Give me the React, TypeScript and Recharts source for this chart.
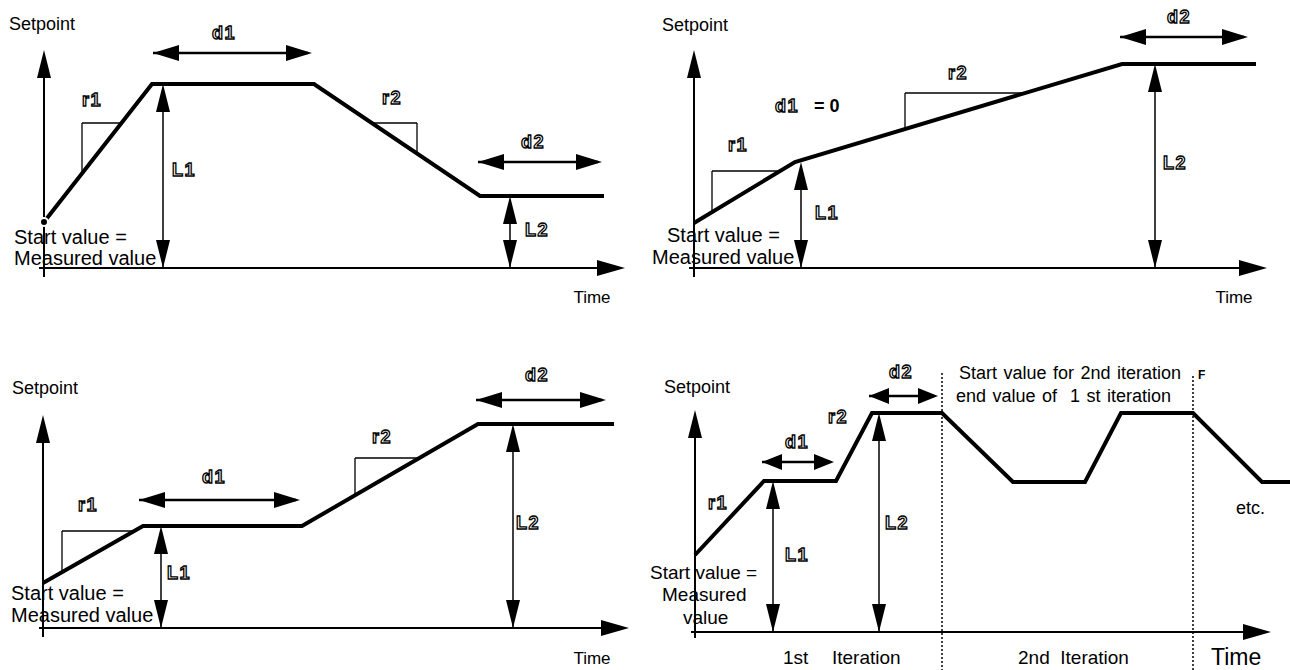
import React from 'react';
import { LineChart, Line, XAxis, YAxis, ReferenceLine, ReferenceDot } from 'recharts';

type Pt = [number, number];

// ---------------- Panel 1 : ramp up, dwell, ramp down, dwell ----------------
const p1Time = [0, 5.4, 13.5, 21.8, 28];
const p1Setpoint = [23, 92, 92, 36, 36];
const p1Dims: Pt[][] = [
  [[5.95, 0], [5.95, 92]],
  [[23.3, 0], [23.3, 36]],
  [[5.45, 107.5], [13.4, 107.5]],
  [[21.7, 53], [27.9, 53]],
];
const p1Slopes: Pt[][] = [
  [[1.9, 47.3], [1.9, 72.5], [3.87, 72.5]],
  [[16.4, 72.5], [18.65, 72.5], [18.65, 57.3]],
];
const p1Tags = [
  { at: [9.0, 117.5] as Pt, text: 'd1', anchor: 'middle' },
  { at: [24.45, 63] as Pt, text: 'd2', anchor: 'middle' },
  { at: [2.4, 84] as Pt, text: 'r1', anchor: 'middle' },
  { at: [17.4, 85] as Pt, text: 'r2', anchor: 'middle' },
  { at: [6.4, 49] as Pt, text: 'L1', anchor: 'start' },
  { at: [24.05, 19] as Pt, text: 'L2', anchor: 'start' },
];
const p1Texts = [
  { at: [-1.75, 122] as Pt, text: 'Setpoint', size: 18, anchor: 'start' },
  { at: [-1.5, 15.5] as Pt, text: 'Start value =', size: 20, anchor: 'start' },
  { at: [-1.5, 5] as Pt, text: 'Measured value', size: 20, anchor: 'start' },
  { at: [27.4, -14.5] as Pt, text: 'Time', size: 17, anchor: 'middle' },
];

// ---------------- Panel 2 : d1 = 0 ----------------
const p2Time = [0, 5.05, 21.4, 28.1];
const p2Setpoint = [22.5, 53, 102, 102];
const p2Dims: Pt[][] = [
  [[5.35, 0], [5.35, 53]],
  [[23.05, 0], [23.05, 102]],
  [[21.3, 115.5], [27.7, 115.5]],
];
const p2Slopes: Pt[][] = [
  [[0.9, 27.9], [0.9, 48.5], [4.3, 48.5]],
  [[10.55, 69.6], [10.55, 87.5], [16.55, 87.5]],
];
const p2Tags = [
  { at: [24.25, 125.5] as Pt, text: 'd2', anchor: 'middle' },
  { at: [4.65, 81] as Pt, text: 'd1', anchor: 'middle' },
  { at: [2.2, 61.5] as Pt, text: 'r1', anchor: 'middle' },
  { at: [13.2, 97.5] as Pt, text: 'r2', anchor: 'middle' },
  { at: [6.05, 27.5] as Pt, text: 'L1', anchor: 'start' },
  { at: [23.45, 52.5] as Pt, text: 'L2', anchor: 'start' },
];
const p2Texts = [
  { at: [6.0, 81] as Pt, text: '= 0', size: 18, anchor: 'start', bold: true },
  { at: [-1.6, 121.5] as Pt, text: 'Setpoint', size: 18, anchor: 'start' },
  { at: [-1.35, 16.5] as Pt, text: 'Start value =', size: 20, anchor: 'start' },
  { at: [-2.1, 5.5] as Pt, text: 'Measured value', size: 20, anchor: 'start' },
  { at: [27, -14.5] as Pt, text: 'Time', size: 17, anchor: 'middle' },
];

// ---------------- Panel 3 : ramp, dwell, ramp, dwell ----------------
const p3Time = [0, 5, 12.95, 21.75, 28.55];
const p3Setpoint = [22.5, 51, 51, 102, 102];
const p3Dims: Pt[][] = [
  [[5.9, 0], [5.9, 51]],
  [[23.5, 0], [23.5, 102]],
  [[4.8, 64], [12.85, 64]],
  [[21.65, 114], [28.15, 114]],
];
const p3Slopes: Pt[][] = [
  [[0.95, 27.9], [0.95, 48.5], [4.55, 48.5]],
  [[15.6, 66.4], [15.6, 85], [18.8, 85]],
];
const p3Tags = [
  { at: [8.55, 75.5] as Pt, text: 'd1', anchor: 'middle' },
  { at: [24.7, 126.5] as Pt, text: 'd2', anchor: 'middle' },
  { at: [2.25, 61.5] as Pt, text: 'r1', anchor: 'middle' },
  { at: [16.95, 95.5] as Pt, text: 'r2', anchor: 'middle' },
  { at: [6.2, 27.5] as Pt, text: 'L1', anchor: 'start' },
  { at: [23.65, 52.5] as Pt, text: 'L2', anchor: 'start' },
];
const p3Texts = [
  { at: [-1.55, 120] as Pt, text: 'Setpoint', size: 18, anchor: 'start' },
  { at: [-1.6, 17.5] as Pt, text: 'Start value =', size: 20, anchor: 'start' },
  { at: [-1.6, 6.5] as Pt, text: 'Measured value', size: 20, anchor: 'start' },
  { at: [27.45, -15] as Pt, text: 'Time', size: 17, anchor: 'middle' },
];

// ---------------- Panel 4 : iterations ----------------
const p4Time = [0, 3.45, 7.05, 8.85, 12.35, 15.9, 19.5, 21.3, 24.9, 28.35, 29.75];
const p4Setpoint = [38.5, 75.5, 75.5, 109.5, 109.5, 75, 75, 109.5, 109.5, 75, 75];
const p4Dims: Pt[][] = [
  [[3.9, 0], [3.9, 75.5]],
  [[9.2, 0], [9.2, 109.5]],
];
const p4ShortDims: Pt[][] = [
  [[3.35, 85], [6.95, 85]],
  [[8.7, 118], [12.15, 118]],
];
const p4Iterations: Pt[][] = [
  [[12.35, 129.5], [12.35, -19]],
  [[24.9, 128], [24.9, -19]],
];
const p4Tags = [
  { at: [5.1, 95] as Pt, text: 'd1', anchor: 'middle' },
  { at: [10.3, 130] as Pt, text: 'd2', anchor: 'middle' },
  { at: [1.15, 64.5] as Pt, text: 'r1', anchor: 'middle' },
  { at: [7.15, 107.5] as Pt, text: 'r2', anchor: 'middle' },
  { at: [4.5, 38.5] as Pt, text: 'L1', anchor: 'start' },
  { at: [9.5, 54.5] as Pt, text: 'L2', anchor: 'start' },
];
const p4Texts = [
  { at: [13.2, 129.5] as Pt, text: 'Start value for 2nd iteration', size: 18, anchor: 'start', spacing: 1.5 },
  { at: [13.05, 118] as Pt, text: 'end value of  1 st iteration', size: 18, anchor: 'start', spacing: 1.5 },
  { at: [-1.55, 122.5] as Pt, text: 'Setpoint', size: 18, anchor: 'start' },
  { at: [-2.25, 30] as Pt, text: 'Start value =', size: 19, anchor: 'start' },
  { at: [-1.65, 19] as Pt, text: 'Measured', size: 19, anchor: 'start' },
  { at: [-0.6, 7.5] as Pt, text: 'value', size: 19, anchor: 'start' },
  { at: [4.4, -12.5] as Pt, text: '1st', size: 19, anchor: 'start' },
  { at: [6.85, -12.5] as Pt, text: 'Iteration', size: 19, anchor: 'start' },
  { at: [16.15, -12.5] as Pt, text: '2nd  Iteration', size: 19, anchor: 'start' },
  { at: [25.8, -12.5] as Pt, text: 'Time', size: 23, anchor: 'start' },
  { at: [27.05, 62] as Pt, text: 'etc.', size: 18, anchor: 'start' },
  { at: [25.15, 128.5] as Pt, text: 'F', size: 12, anchor: 'start', bold: true },
];

const FONT = "'Liberation Sans', Arial, Helvetica, sans-serif";
const KX = 20; // px per time unit
const KY = 2; // px per setpoint unit

type Txt = { at: Pt; text: string; size?: number; anchor?: string; bold?: boolean; spacing?: number };

interface PanelDef {
  left: number;
  top: number;
  width: number;
  height: number;
  ox: number;
  oy: number;
  time: number[];
  setpoint: number[];
  yAxis: [number, number];
  xAxis: [number, number];
  dims: Pt[][];
  shortDims?: Pt[][];
  slopes: Pt[][];
  dotted?: Pt[][];
  tags: Txt[];
  texts: Txt[];
}

const arrowShape = (heads: 'end' | 'both', len: number, half: number, width: number) => (props: any) => {
  const { x1, y1, x2, y2 } = props;
  const dx = x2 - x1;
  const dy = y2 - y1;
  const d = Math.hypot(dx, dy) || 1;
  const ux = dx / d;
  const uy = dy / d;
  const px = -uy;
  const py = ux;
  const head = (tx: number, ty: number, ax: number, ay: number) =>
    `${tx},${ty} ${tx - ax * len + px * half},${ty - ay * len + py * half} ${tx - ax * len - px * half},${ty - ay * len - py * half}`;
  return (
    <g>
      <line x1={x1} y1={y1} x2={x2 - ux * 4} y2={y2 - uy * 4} stroke="#000" strokeWidth={width} />
      <polygon points={head(x2, y2, ux, uy)} fill="#000" />
      {heads === 'both' && <polygon points={head(x1, y1, -ux, -uy)} fill="#000" />}
    </g>
  );
};

const textShape = (t: Txt, outline: boolean) => (props: any) => (
  <text
    x={props.cx}
    y={props.cy}
    textAnchor={(t.anchor as any) || 'start'}
    dominantBaseline="central"
    fontFamily={FONT}
    fontSize={outline ? 18 : t.size || 18}
    fontWeight={outline || t.bold ? 700 : 400}
    fill={outline ? '#fff' : '#000'}
    stroke={outline ? '#000' : 'none'}
    strokeWidth={outline ? 1.3 : 0}
    letterSpacing={outline ? 1.5 : 0}
    wordSpacing={t.spacing || 0}
    style={{ whiteSpace: 'pre' }}
  >
    {t.text}
  </text>
);

function Panel({ def }: { def: PanelDef }) {
  const data = def.time.map((t, i) => ({ t, s: def.setpoint[i] }));
  const xDom = [-def.ox / KX, (def.width - def.ox) / KX];
  const yDom = [-(def.height - def.oy) / KY, def.oy / KY];
  return (
    <div style={{ position: 'absolute', left: def.left, top: def.top, width: def.width, height: def.height }}>
      <LineChart width={def.width} height={def.height} data={data} margin={{ top: 0, right: 0, bottom: 0, left: 0 }}>
        <XAxis dataKey="t" type="number" domain={xDom} allowDataOverflow hide />
        <YAxis type="number" domain={yDom} allowDataOverflow hide />
        {(def.dotted || []).map((seg, i) => (
          <ReferenceLine
            key={`dot${i}`}
            segment={[{ x: seg[0][0], y: seg[0][1] }, { x: seg[1][0], y: seg[1][1] }]}
            stroke="#000"
            strokeWidth={1.5}
            strokeDasharray="2 2"
            ifOverflow="visible"
          />
        ))}
        <ReferenceLine
          segment={[{ x: 0, y: def.yAxis[0] }, { x: 0, y: def.yAxis[1] }]}
          shape={arrowShape('end', 28, 7, 2)}
          ifOverflow="visible"
        />
        <ReferenceLine
          segment={[{ x: def.xAxis[0], y: 0 }, { x: def.xAxis[1], y: 0 }]}
          shape={arrowShape('end', 28, 8, 2)}
          ifOverflow="visible"
        />
        {def.dims.map((seg, i) => (
          <ReferenceLine
            key={`dim${i}`}
            segment={[{ x: seg[0][0], y: seg[0][1] }, { x: seg[1][0], y: seg[1][1] }]}
            shape={arrowShape('both', seg[0][1] === seg[1][1] ? 26 : 28, seg[0][1] === seg[1][1] ? 8 : 7, seg[0][1] === seg[1][1] ? 2.5 : 1.5)}
            ifOverflow="visible"
          />
        ))}
        {(def.shortDims || []).map((seg, i) => (
          <ReferenceLine
            key={`sdim${i}`}
            segment={[{ x: seg[0][0], y: seg[0][1] }, { x: seg[1][0], y: seg[1][1] }]}
            shape={arrowShape('both', 20, 8, 2.5)}
            ifOverflow="visible"
          />
        ))}
        {def.slopes.flatMap((poly, i) =>
          poly.slice(1).map((p, j) => (
            <ReferenceLine
              key={`sl${i}-${j}`}
              segment={[{ x: poly[j][0], y: poly[j][1] }, { x: p[0], y: p[1] }]}
              stroke="#000"
              strokeWidth={1.3}
              ifOverflow="visible"
            />
          ))
        )}
        <Line
          dataKey="s"
          stroke="#000"
          strokeWidth={4}
          dot={false}
          isAnimationActive={false}
          strokeLinejoin="miter"
        />
        {def.tags.map((t, i) => (
          <ReferenceDot key={`tag${i}`} x={t.at[0]} y={t.at[1]} r={0} ifOverflow="visible" shape={textShape(t, true)} />
        ))}
        {def.texts.map((t, i) => (
          <ReferenceDot key={`txt${i}`} x={t.at[0]} y={t.at[1]} r={0} ifOverflow="visible" shape={textShape(t, false)} />
        ))}
      </LineChart>
    </div>
  );
}

const panels: PanelDef[] = [
  {
    left: 0, top: 0, width: 645, height: 335, ox: 44, oy: 268,
    time: p1Time, setpoint: p1Setpoint, yAxis: [-4.5, 109], xAxis: [-0.25, 29.05],
    dims: p1Dims, slopes: p1Slopes, tags: p1Tags, texts: p1Texts,
  },
  {
    left: 640, top: 0, width: 650, height: 335, ox: 54, oy: 268,
    time: p2Time, setpoint: p2Setpoint, yAxis: [-4.5, 109], xAxis: [-0.25, 28.65],
    dims: p2Dims, slopes: p2Slopes, tags: p2Tags, texts: p2Texts,
  },
  {
    left: 0, top: 335, width: 645, height: 335, ox: 43, oy: 293,
    time: p3Time, setpoint: p3Setpoint, yAxis: [-4.5, 106.5], xAxis: [-0.2, 29.3],
    dims: p3Dims, slopes: p3Slopes, tags: p3Tags, texts: p3Texts,
  },
  {
    left: 640, top: 335, width: 650, height: 335, ox: 55, oy: 297,
    time: p4Time, setpoint: p4Setpoint, yAxis: [-3, 111], xAxis: [-0.2, 28.8],
    dims: p4Dims, shortDims: p4ShortDims, slopes: [], dotted: p4Iterations, tags: p4Tags, texts: p4Texts,
  },
];

export default function App() {
  return (
    <div style={{ position: 'absolute', left: 0, top: 0, width: 1290, height: 670, background: '#fff', overflow: 'hidden' }}>
      {panels.map((p, i) => (
        <Panel key={i} def={p} />
      ))}
    </div>
  );
}
